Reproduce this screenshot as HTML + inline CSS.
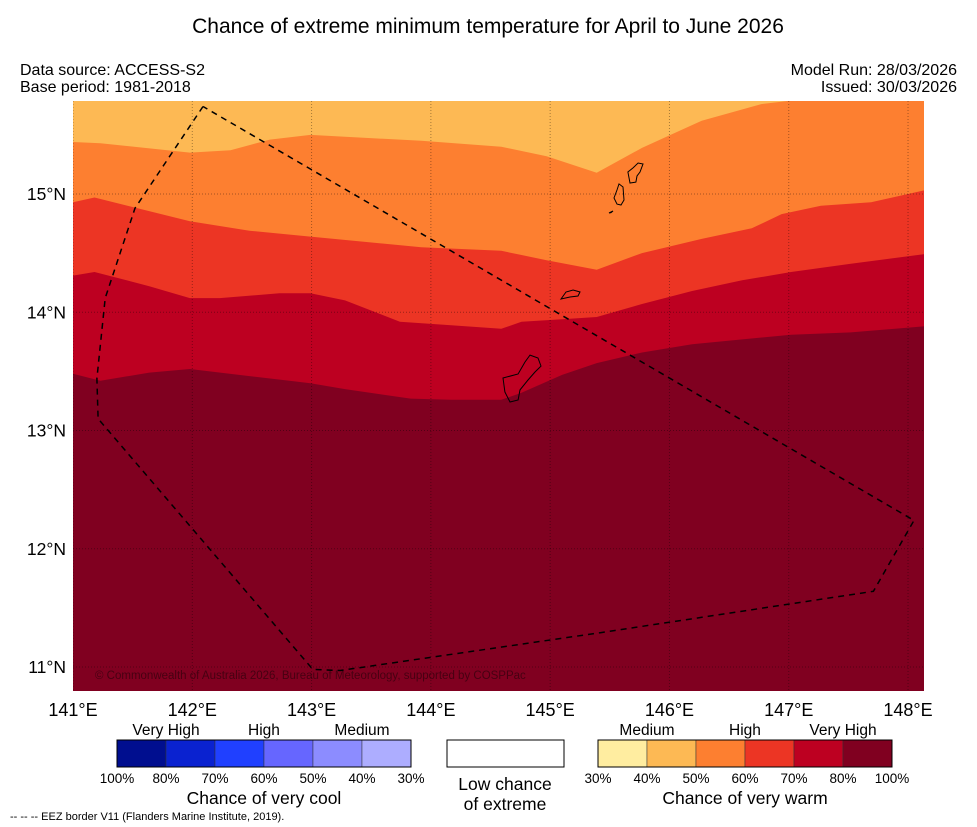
<!DOCTYPE html>
<html><head><meta charset="utf-8"><style>
body{margin:0;background:#fff;font-family:"Liberation Sans","DejaVu Sans",sans-serif;}
svg{display:block}
</style></head><body>
<svg id="c" width="977" height="827" xmlns="http://www.w3.org/2000/svg">
<text x="488" y="33" font-size="21" text-anchor="middle">Chance of extreme minimum temperature for April to June 2026</text>
<text x="20" y="75" font-size="16">Data source: ACCESS-S2</text>
<text x="20" y="92" font-size="16">Base period: 1981-2018</text>
<text x="957" y="75" font-size="16" text-anchor="end">Model Run: 28/03/2026</text>
<text x="957" y="92" font-size="16" text-anchor="end">Issued: 30/03/2026</text>
<defs><clipPath id="mc"><rect x="73" y="101" width="851" height="590"/></clipPath></defs>
<g id="map" clip-path="url(#mc)"></g>
<g id="ax"></g>
<g id="leg"></g>
<text x="10" y="820" font-size="11">--  --  -- EEZ border V11 (Flanders Marine Institute, 2019).</text>
</svg>
<script>
const NS="http://www.w3.org/2000/svg";
const lonTicks=[141,142,143,144,145,146,147,148];
const latTicks=[11,12,13,14,15];
const X=lon=>73+(lon-141)*119.29;
const Y=lat=>194+(15-lat)*118.25;
const LON0=141,LON1=148.13,LAT0=10.8,LAT1=15.79;
const bandColors=["#fdb954","#fd7f30","#ec3524","#bd0021","#800020"];
const b1=[[141,15.44],[141.23,15.43],[141.98,15.35],[142.32,15.37],[142.65,15.46],[142.99,15.5],[143.92,15.45],[144.59,15.4],[144.97,15.32],[145.39,15.18],[145.77,15.39],[146.27,15.62],[146.77,15.76],[147.02,15.79],[148.13,15.79]];
const b2=[[141,14.93],[141.18,14.97],[141.98,14.77],[142.48,14.69],[142.99,14.64],[143.92,14.55],[144.59,14.52],[144.97,14.44],[145.39,14.36],[145.77,14.5],[146.27,14.62],[146.69,14.71],[146.94,14.83],[147.27,14.9],[147.69,14.93],[148.13,15.03]];
const b3=[[141,14.31],[141.18,14.34],[141.64,14.22],[141.98,14.12],[142.23,14.12],[142.73,14.16],[142.99,14.16],[143.28,14.1],[143.74,13.92],[144.17,13.89],[144.59,13.86],[144.76,13.92],[145.1,13.94],[145.39,13.96],[145.77,14.07],[146.19,14.18],[146.61,14.27],[147.02,14.34],[147.52,14.41],[148.13,14.49]];
const b4=[[141,13.48],[141.23,13.42],[141.64,13.49],[141.98,13.52],[142.48,13.46],[142.99,13.4],[143.28,13.35],[143.83,13.27],[144.17,13.26],[144.59,13.26],[144.76,13.32],[145.1,13.47],[145.39,13.57],[145.77,13.66],[146.19,13.73],[146.61,13.77],[147.02,13.81],[147.52,13.83],[148.13,13.88]];
const bounds=[b1,b2,b3,b4];
const eez=[[142.09,15.74],[141.52,14.88],[141.27,14.12],[141.2,13.44],[141.21,13.1],[143.01,10.98],[143.24,10.97],[145.42,11.29],[147.71,11.64],[148.05,12.24],[142.09,15.74]];
const islands=[
 [[145.669,15.093],[145.652,15.186],[145.694,15.22],[145.737,15.262],[145.778,15.254],[145.753,15.186],[145.728,15.152],[145.719,15.101],[145.669,15.093]],
 [[145.56,15.034],[145.535,14.966],[145.56,14.915],[145.594,14.907],[145.619,14.949],[145.611,15.059],[145.577,15.085],[145.56,15.034]],
 [[145.091,14.112],[145.133,14.171],[145.192,14.188],[145.25,14.171],[145.233,14.137],[145.166,14.129],[145.091,14.112]],
 [[145.493,14.839],[145.527,14.856],[145.51,14.843],[145.493,14.839]],
 [[144.605,13.444],[144.731,13.478],[144.789,13.579],[144.831,13.638],[144.898,13.613],[144.923,13.545],[144.873,13.495],[144.814,13.427],[144.747,13.343],[144.731,13.258],[144.663,13.241],[144.621,13.326],[144.605,13.444]]
];
const map=document.getElementById('map');
function mk(tag,attrs,parent){const e=document.createElementNS(NS,tag);for(const k in attrs)e.setAttribute(k,attrs[k]);parent.appendChild(e);return e;}
function pts(a){return a.map(p=>X(p[0]).toFixed(1)+","+Y(p[1]).toFixed(1)).join(" ");}
let bg=mk('rect',{x:73,y:101,width:851,height:590,fill:bandColors[4]},map);


for(let i=bounds.length-1;i>=0;i--){
  const b=bounds[i];
  const poly=[[LON0,LAT1+0.1],...b,[LON1+0.1,b[b.length-1][1]],[LON1+0.1,LAT1+0.1]];
  const p=mk('polygon',{points:pts(poly),fill:bandColors[i]},map);
  
  
}
lonTicks.forEach(l=>{const g=mk('line',{x1:X(l),x2:X(l),y1:101,y2:691,stroke:"rgba(0,0,0,0.35)","stroke-width":1,"stroke-dasharray":"1,2"},map);

});
latTicks.forEach(l=>{const g=mk('line',{x1:73,x2:924,y1:Y(l),y2:Y(l),stroke:"rgba(0,0,0,0.35)","stroke-width":1,"stroke-dasharray":"1,2"},map);

});
islands.forEach(is=>{const p=mk('polygon',{points:pts(is),fill:"none",stroke:"#000","stroke-width":1},map);

});
const ez=mk('polyline',{points:pts(eez),fill:"none",stroke:"#000","stroke-width":1.5,"stroke-dasharray":"6,5"},map);


const cp=mk('text',{x:95,y:679,"font-size":11.5,fill:"rgba(0,0,0,0.45)"},map);cp.textContent="© Commonwealth of Australia 2026, Bureau of Meteorology, supported by COSPPac";


const ax=document.getElementById('ax');
lonTicks.forEach(l=>{const t=mk('text',{x:X(l),y:716,"font-size":18,"text-anchor":"middle"},ax);t.textContent=l+"°E";

});
latTicks.forEach(l=>{const t=mk('text',{x:66,y:Y(l)+6,"font-size":17.5,"text-anchor":"end"},ax);t.textContent=l+"°N";

});
const leg=document.getElementById('leg');
const coolColors=["#000e8f","#0a22d0","#2040ff","#6666ff","#8c8cff","#adadff"];
const warmColors=["#ffeda0","#fdb954","#fd7f30","#ec3524","#bd0021","#800020"];
const coolLabels=["100%","80%","70%","60%","50%","40%","30%"];
const warmLabels=["30%","40%","50%","60%","70%","80%","100%"];
function bar(x0,cols,labs,name){
  cols.forEach((c,i)=>{const r=mk('rect',{x:x0+i*49,y:740,width:49,height:27,fill:c,stroke:"#333","stroke-width":0.5},leg);
  
  });
  mk('rect',{x:x0,y:740,width:294,height:27,fill:"none",stroke:"#000","stroke-width":1},leg);
  labs.forEach((l,i)=>{const t=mk('text',{x:x0+i*49,y:783,"font-size":13.5,"text-anchor":"middle"},leg);t.textContent=l;
  
  });
}
bar(117,coolColors,coolLabels,'cool');
bar(598,warmColors,warmLabels,'warm');
const lw=mk('rect',{x:447,y:740,width:117,height:27,fill:"#fff",stroke:"#000","stroke-width":1},leg);


const lt=[["Very High",166,735],["High",264,735],["Medium",362,735],["Medium",647,735],["High",745,735],["Very High",843,735],
["Chance of very cool",264,804],["Low chance",505,790],["of extreme",505,810],["Chance of very warm",745,804]];
lt.forEach((a,i)=>{const t=mk('text',{x:a[1],y:a[2],"font-size":i<6?15.5:17.5,"text-anchor":"middle"},leg);t.textContent=a[0];

});
</script>
</body></html>
